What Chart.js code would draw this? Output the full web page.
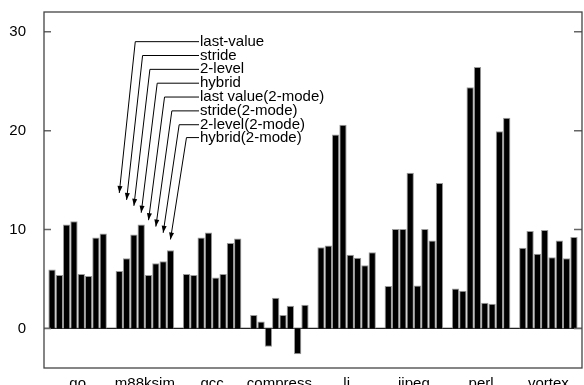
<!DOCTYPE html>
<html lang="en">
<head>
    <meta charset="UTF-8">
    <title>Value predictor comparison</title>
    <script src="https://cdn.jsdelivr.net/npm/chart.js"></script>
    <style>
        html, body { margin: 0; padding: 0; background: #fff; }
        #wrap { width: 584px; height: 385px; }
    </style>
</head>
<body>
    <div id="wrap"><canvas id="chart"></canvas></div>

    <script>
        // benchmarks and predictor series
        const benchmarks = ['go', 'm88ksim', 'gcc', 'compress', 'li', 'ijpeg', 'perl', 'vortex'];
        const seriesNames = ['last-value', 'stride', '2-level', 'hybrid',
            'last value(2-mode)', 'stride(2-mode)', '2-level(2-mode)', 'hybrid(2-mode)'];

        const lastValue  = [5.95, 5.8, 5.5, 1.35, 8.2, 4.3, 4.05, 8.15];
        const stride     = [5.4, 7.1, 5.4, 0.7, 8.4, 10.05, 3.8, 9.85];
        const twoLevel   = [10.5, 9.5, 9.2, -1.85, 19.6, 10.05, 24.4, 7.55];
        const hybrid     = [10.85, 10.5, 9.7, 3.1, 20.6, 15.75, 26.45, 9.95];
        const lastValue2 = [5.5, 5.4, 5.15, 1.35, 7.45, 4.35, 2.6, 7.2];
        const stride2    = [5.3, 6.6, 5.5, 2.3, 7.15, 10.05, 2.5, 8.9];
        const twoLevel2  = [9.2, 6.8, 8.65, -2.6, 6.4, 8.9, 19.95, 7.1];
        const hybrid2    = [9.6, 7.9, 9.1, 2.4, 7.7, 14.7, 21.3, 9.25];

        const yTicks = [0, 10, 20, 30];

        // annotation: arrow tip values (above m88ksim bars) and label rows, in data units
        const arrowTipValues = [13.7, 13.0, 12.4, 11.7, 10.95, 10.3, 9.67, 9.0];
        const labelRowValues = [29.0, 27.6, 26.2, 24.8, 23.4, 22.0, 20.6, 19.3];
        const arrowGroup = 1;

        const allSeries = [lastValue, stride, twoLevel, hybrid, lastValue2, stride2, twoLevel2, hybrid2];
        const FONT = '"Liberation Sans", Arial, Helvetica, sans-serif';

        // frame, zero line, inward ticks
        const framePlugin = {
            id: 'frame',
            beforeDatasetsDraw(chart) {
                const { ctx, chartArea: a, scales: { y } } = chart;
                ctx.save();
                ctx.strokeStyle = '#222';
                ctx.lineWidth = 1.3;
                const y0 = y.getPixelForValue(0);
                ctx.beginPath();
                ctx.moveTo(a.left, y0);
                ctx.lineTo(a.right, y0);
                ctx.stroke();
                ctx.restore();
            },
            afterDatasetsDraw(chart) {
                const { ctx, chartArea: a, scales: { y } } = chart;
                ctx.save();
                ctx.strokeStyle = '#666';
                ctx.lineWidth = 1.5;
                yTicks.forEach(v => {
                    const py = y.getPixelForValue(v);
                    ctx.beginPath();
                    ctx.moveTo(a.left, py);
                    ctx.lineTo(a.left + 7, py);
                    ctx.moveTo(a.right - 8, py);
                    ctx.lineTo(a.right, py);
                    ctx.stroke();
                });
                ctx.strokeStyle = '#444';
                ctx.lineWidth = 1.3;
                ctx.strokeRect(a.left, a.top, a.right - a.left, a.bottom - a.top);
                ctx.restore();
            }
        };

        // labelled arrows pointing at the m88ksim bars
        const arrowPlugin = {
            id: 'arrows',
            afterDatasetsDraw(chart) {
                const { ctx, chartArea: a, scales: { y } } = chart;
                const textX = a.left + 156;
                ctx.save();
                ctx.strokeStyle = '#000';
                ctx.fillStyle = '#000';
                ctx.lineWidth = 1;
                ctx.font = '15px ' + FONT;
                ctx.textBaseline = 'alphabetic';
                seriesNames.forEach((name, i) => {
                    const bar = chart.getDatasetMeta(i).data[arrowGroup];
                    const tipX = bar.x;
                    const tipY = y.getPixelForValue(arrowTipValues[i]);
                    const rowY = y.getPixelForValue(labelRowValues[i]);
                    const elbowX = tipX + 16;
                    ctx.beginPath();
                    ctx.moveTo(textX - 1, rowY);
                    ctx.lineTo(elbowX, rowY);
                    ctx.lineTo(tipX, tipY);
                    ctx.stroke();
                    // arrow head
                    const ang = Math.atan2(tipY - rowY, tipX - elbowX);
                    const len = 7, half = 2.5;
                    const bx = tipX - len * Math.cos(ang), by = tipY - len * Math.sin(ang);
                    ctx.beginPath();
                    ctx.moveTo(tipX, tipY);
                    ctx.lineTo(bx + half * Math.sin(ang), by - half * Math.cos(ang));
                    ctx.lineTo(bx - half * Math.sin(ang), by + half * Math.cos(ang));
                    ctx.closePath();
                    ctx.fill();
                    ctx.fillText(name, textX, rowY + 4);
                });
                ctx.restore();
            }
        };

        new Chart(document.getElementById('chart'), {
            type: 'bar',
            data: {
                labels: benchmarks,
                datasets: allSeries.map((values, i) => ({
                    label: seriesNames[i],
                    data: values,
                    backgroundColor: '#000',
                    borderColor: '#9a9a9a',
                    borderWidth: 1,
                    barPercentage: 1.0,
                    categoryPercentage: 0.87
                }))
            },
            options: {
                responsive: true,
                maintainAspectRatio: false,
                animation: false,
                layout: { padding: { top: 12, right: 2, left: 0, bottom: 0 } },
                plugins: {
                    legend: { display: false },
                    tooltip: { enabled: false }
                },
                scales: {
                    x: {
                        grid: { display: false },
                        border: { display: false },
                        ticks: {
                            color: '#000',
                            font: { family: FONT, size: 15 },
                            padding: -1,
                            maxRotation: 0,
                            autoSkip: false
                        },
                        afterFit(scale) {
                            scale.height = 17;
                            scale.paddingLeft = 0;
                            scale.paddingRight = 0;
                        }
                    },
                    y: {
                        min: -4,
                        max: 32,
                        grid: { display: false },
                        border: { display: false },
                        ticks: {
                            color: '#000',
                            font: { family: FONT, size: 15 },
                            padding: 10
                        },
                        afterBuildTicks(scale) {
                            scale.ticks = yTicks.map(v => ({ value: v }));
                        },
                        afterFit(scale) {
                            scale.width = 44;
                            scale.paddingTop = 0;
                            scale.paddingBottom = 0;
                        }
                    }
                }
            },
            plugins: [framePlugin, arrowPlugin]
        });
    </script>
</body>
</html>
